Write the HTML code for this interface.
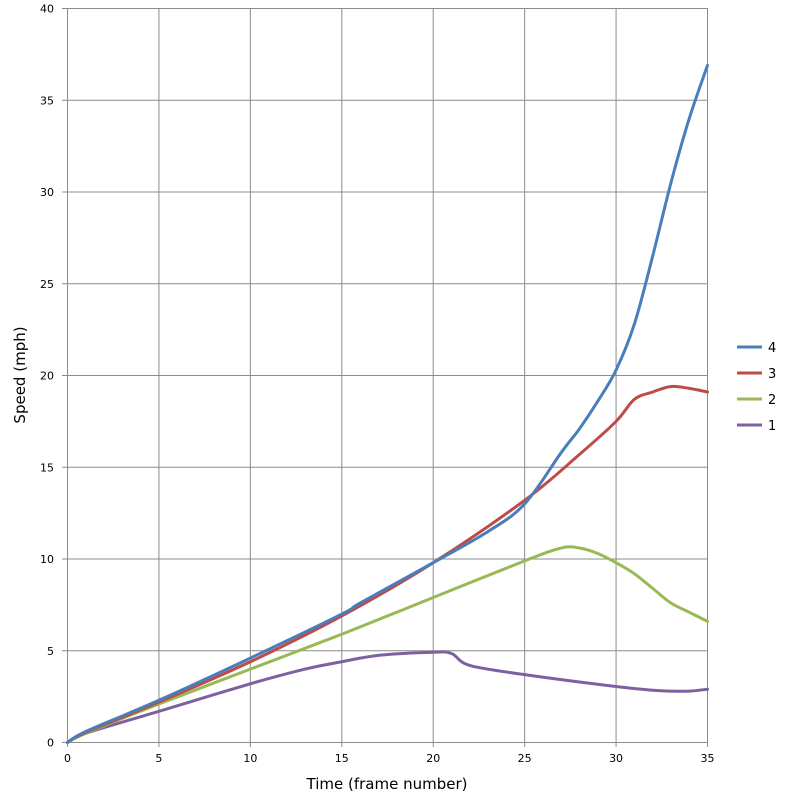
<!DOCTYPE html>
<html><head><meta charset="utf-8"><style>
body{margin:0;background:#fff}
svg text{font-family:"DejaVu Sans","Liberation Sans",sans-serif;fill:#000}
</style></head><body>
<svg id="s" width="790" height="800" xmlns="http://www.w3.org/2000/svg">
<g id="grid" stroke="#8c8c8c" stroke-width="1"></g>
<g id="lab" font-size="11"></g>
<text x="387" y="789" font-size="15" text-anchor="middle">Time (frame number)</text>
<text transform="translate(25,375) rotate(-90)" font-size="15" text-anchor="middle">Speed (mph)</text>
<g id="ser" fill="none" stroke-width="3" stroke-linejoin="round" stroke-linecap="round"></g>
<g font-size="13">
<line x1="737" y1="347" x2="762" y2="347" stroke="#4a7ebb" stroke-width="3"/><text x="768" y="352">4</text>
<line x1="737" y1="373" x2="762" y2="373" stroke="#be4b48" stroke-width="3"/><text x="768" y="378">3</text>
<line x1="737" y1="399" x2="762" y2="399" stroke="#98b954" stroke-width="3"/><text x="768" y="404">2</text>
<line x1="737" y1="425" x2="762" y2="425" stroke="#7d60a0" stroke-width="3"/><text x="768" y="430">1</text>
</g>
</svg>
<script>
var X=function(t){return 67.5+t*640/35},Y=function(v){return 742.5-v*734/40};
var g=document.getElementById('grid'),l=document.getElementById('lab'),h='',k='';
for(var i=0;i<=7;i++){var x=X(i*5);h+='<line x1="'+x+'" y1="8" x2="'+x+'" y2="747"/>';k+='<text x="'+x+'" y="762" text-anchor="middle">'+i*5+'</text>';}
for(var j=0;j<=8;j++){var y=Y(j*5);h+='<line x1="62" y1="'+y+'" x2="707.5" y2="'+y+'"/>';k+='<text x="54" y="'+(y+4)+'" text-anchor="end">'+j*5+'</text>';}
g.innerHTML=h;l.innerHTML=k;
var D=[
['#7d60a0',[[0,0],[1,0.5],[5,1.7],[10,3.2],[13,4.0],[15,4.4],[17,4.75],[20,4.92],[21,4.85],[22,4.2],[25,3.7],[30,3.05],[32,2.85],[33,2.8],[34,2.8],[35,2.9]]],
['#98b954',[[0,0],[1,0.5],[5,2.1],[10,4.0],[15,5.9],[20,7.9],[25,9.9],[27,10.6],[28,10.6],[29,10.3],[30,9.8],[31,9.2],[32,8.4],[33,7.6],[34,7.1],[35,6.6]]],
['#be4b48',[[0,0],[1,0.55],[5,2.2],[10,4.4],[15,6.9],[20,9.8],[25,13.2],[28,15.7],[30,17.5],[31,18.7],[32,19.1],[33,19.4],[34,19.3],[35,19.1]]],
['#4a7ebb',[[0,0],[1,0.6],[5,2.3],[10,4.6],[15,7.0],[16,7.6],[20,9.8],[23,11.5],[25,13.0],[27,15.8],[28,17.1],[29,18.6],[30,20.3],[31,22.8],[32,26.5],[33,30.5],[34,34.0],[35,36.9]]]];
var s='';
D.forEach(function(d){var p=d[1].map(function(a){return[X(a[0]),Y(a[1])]});
var str='M'+p[0][0]+','+p[0][1];
for(var i=0;i<p.length-1;i++){var p0=p[i-1]||p[i],p1=p[i],p2=p[i+1],p3=p[i+2]||p2;
str+=' C'+(p1[0]+(p2[0]-p0[0])/6)+','+(p1[1]+(p2[1]-p0[1])/6)+' '+(p2[0]-(p3[0]-p1[0])/6)+','+(p2[1]-(p3[1]-p1[1])/6)+' '+p2[0]+','+p2[1];}
s+='<path d="'+str+'" stroke="'+d[0]+'"/>';});
document.getElementById('ser').innerHTML=s;
</script>
</body></html>
